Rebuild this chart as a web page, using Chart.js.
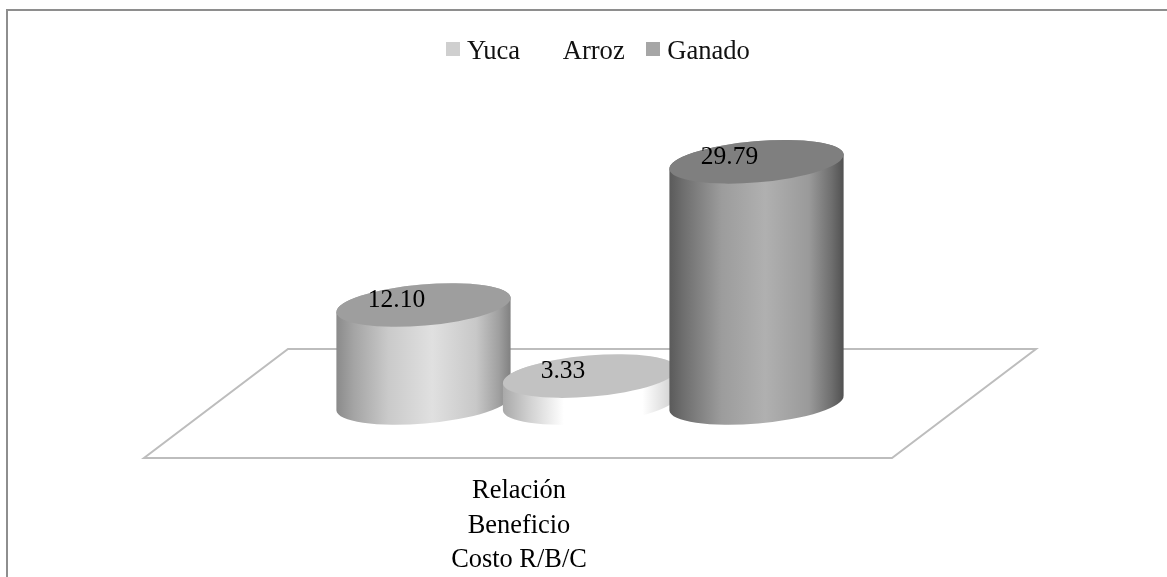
<!DOCTYPE html>
<html>
<head>
<meta charset="utf-8">
<script src="https://cdn.jsdelivr.net/npm/chart.js@4/dist/chart.umd.min.js"></script>
<style>
  html, body { margin: 0; padding: 0; background: #fff; overflow: hidden; }
  #wrap { position: relative; width: 1167px; height: 577px; }
  #frame { position: absolute; left: 6px; top: 9px; right: -4px; bottom: -4px; border: 2px solid #8e8e8e; }
  #legend { position: absolute; left: 446px; top: 35px; display: flex; font: 26.6px "Liberation Serif", serif; color: #111; line-height: 30px; }
  #legend span.item { display: flex; align-items: center; margin-right: 21.5px; }
  #legend i { display: block; width: 14px; height: 14px; margin-right: 7px; margin-top: -2px; }
  canvas { position: absolute; left: 0; top: 0; }
</style>
</head>
<body>
<div id="wrap">
  <div id="frame"></div>
  <canvas id="chart" width="1167" height="577"></canvas>
  <div id="legend"></div>
</div>
<script>
const categories = [['Relación', 'Beneficio', 'Costo R/B/C']];
const seriesNames = ['Yuca', 'Arroz', 'Ganado'];
const yuca = [12.10];
const arroz = [3.33];
const ganado = [29.79];

const legendColors = ['#cfcfcf', '#ffffff', '#a6a6a6'];
const topColors = ['#9e9e9e', '#c2c2c2', '#7f7f7f'];
const sideColors = [
  [[0, '#8a8a8a'], [0.1, '#a4a4a4'], [0.3, '#cacaca'], [0.55, '#e0e0e0'], [0.8, '#c8c8c8'], [0.93, '#a0a0a0'], [1, '#808080']],
  [[0, '#a8a8a8'], [0.15, '#d0d0d0'], [0.35, '#ffffff'], [0.8, '#ffffff'], [0.95, '#d8d8d8'], [1, '#b0b0b0']],
  [[0, '#5a5a5a'], [0.08, '#6e6e6e'], [0.3, '#9c9c9c'], [0.55, '#b0b0b0'], [0.8, '#9a9a9a'], [0.93, '#6e6e6e'], [1, '#505050']],
];

const TILT = -4.9 * Math.PI / 180;
const TOP_RY = 20.6;

// the 3d look is not in chart.js, so cylinders are painted from the bar elements
const cylinders = {
  id: 'cylinders',
  beforeDatasetsDraw(chart) {
    const ctx = chart.ctx;
    const area = chart.chartArea;
    const zero = chart.scales.y.getPixelForValue(0);

    ctx.save();
    ctx.strokeStyle = '#bdbdbd';
    ctx.lineWidth = 2;
    ctx.beginPath();
    ctx.moveTo(area.left, zero + 55);
    ctx.lineTo(area.right - 144, zero + 55);
    ctx.lineTo(area.right, zero - 54);
    ctx.lineTo(area.left + 144, zero - 54);
    ctx.closePath();
    ctx.stroke();

    chart.data.datasets.forEach((ds, i) => {
      const bar = chart.getDatasetMeta(i).data[0];
      const { x, y, base, width } = bar.getProps(['x', 'y', 'base', 'width'], true);
      const rx = width / 2;
      const grad = ctx.createLinearGradient(x - rx, 0, x + rx, 0);
      sideColors[i].forEach(s => grad.addColorStop(s[0], s[1]));

      ctx.fillStyle = grad;
      ctx.beginPath();
      ctx.ellipse(x, base, rx, TOP_RY, TILT, Math.PI, 0, true);
      ctx.ellipse(x, y, rx, TOP_RY, TILT, 0, Math.PI, true);
      ctx.closePath();
      ctx.fill();

      ctx.fillStyle = topColors[i];
      ctx.beginPath();
      ctx.ellipse(x, y, rx, TOP_RY, TILT, 0, Math.PI * 2);
      ctx.fill();
    });

    ctx.fillStyle = '#000';
    ctx.font = '25.5px "Liberation Serif", serif';
    ctx.textAlign = 'center';
    ctx.textBaseline = 'middle';
    chart.data.datasets.forEach((ds, i) => {
      const bar = chart.getDatasetMeta(i).data[0];
      ctx.fillText(ds.data[0].toFixed(2), bar.x - 27, bar.y - 5);
    });
    ctx.restore();
    return false;
  }
};

const config = {
  type: 'bar',
  data: {
    labels: categories,
    datasets: [
      { label: seriesNames[0], data: yuca, backgroundColor: legendColors[0] },
      { label: seriesNames[1], data: arroz, backgroundColor: legendColors[1] },
      { label: seriesNames[2], data: ganado, backgroundColor: legendColors[2] },
    ]
  },
  options: {
    responsive: false,
    animation: false,
    barPercentage: 1.05,
    categoryPercentage: 0.56,
    layout: { padding: { left: 144, right: 131, top: 118, bottom: 0 } },
    plugins: { legend: { display: false }, title: { display: false } },
    scales: {
      x: {
        grid: { display: false },
        border: { display: false },
        afterFit(scale) { scale.height = 174; },
        ticks: {
          color: '#000',
          padding: 63,
          maxRotation: 0,
          labelOffset: -71,
          font: { family: '"Liberation Serif", serif', size: 26.4, lineHeight: 1.307 }
        }
      },
      y: { display: false, min: 0, max: 35.2 }
    }
  },
  plugins: [cylinders]
};
const myChart = new Chart(document.getElementById('chart'), config);

const legendBox = document.getElementById('legend');
myChart.data.datasets.forEach(ds => {
  const item = document.createElement('span');
  item.className = 'item';
  const swatch = document.createElement('i');
  swatch.style.background = ds.backgroundColor;
  item.appendChild(swatch);
  item.appendChild(document.createTextNode(ds.label));
  legendBox.appendChild(item);
});
</script>
</body>
</html>
